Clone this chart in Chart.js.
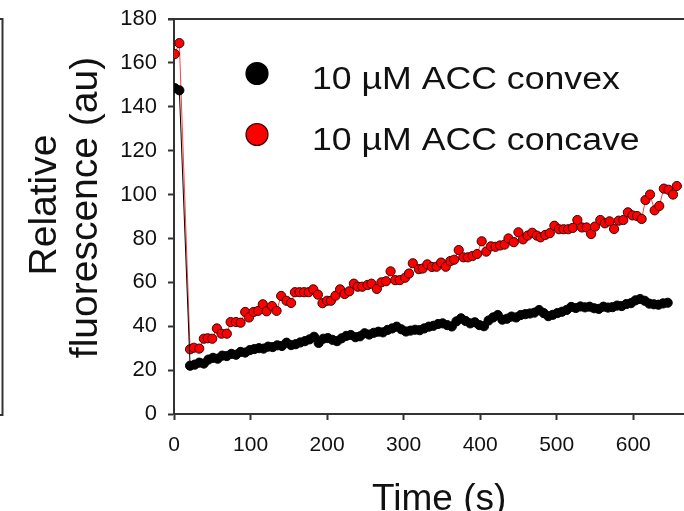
<!DOCTYPE html>
<html>
<head>
<meta charset="utf-8">
<script src="https://cdn.jsdelivr.net/npm/chart.js@4/dist/chart.umd.min.js"></script>
<style>
  html, body { margin: 0; padding: 0; overflow: hidden; background: #fff; }
  #wrap { position: relative; width: 710px; height: 511px; }
</style>
</head>
<body>
<div id="wrap"><canvas id="c" width="710" height="511"></canvas></div>
<script>
// Fluorescence time courses after 10 µM ACC, convex vs concave side
const seriesLabels = ['10 \u00B5M ACC convex', '10 \u00B5M ACC concave'];
const xTicks = [0, 100, 200, 300, 400, 500, 600];
const yTicks = [0, 20, 40, 60, 80, 100, 120, 140, 160, 180];
const xTitle = 'Time (s)';
const yTitle = ['Relative', 'fluorescence (au)'];

const convexTime = [1, 7, 21, 27, 33, 39, 45, 51, 57, 63, 69, 75, 81, 87, 93, 99, 105, 111, 117, 123,
  129, 135, 141, 147, 153, 159, 165, 171, 177, 183, 189, 195, 201, 207, 213, 219, 225, 231, 237, 243,
  249, 255, 261, 267, 273, 279, 285, 291, 297, 303, 309, 315, 321, 327, 333, 339, 345, 351, 357, 363,
  369, 375, 381, 387, 393, 399, 405, 411, 417, 423, 429, 435, 441, 447, 453, 459, 465, 471, 477, 483,
  489, 495, 501, 507, 513, 519, 525, 531, 537, 543, 549, 555, 561, 567, 573, 579, 585, 591, 597, 603,
  609, 615, 621, 627, 633, 639, 645];
const convexValue = [148.5, 147.5, 22.0, 22.5, 23.4, 23.0, 24.8, 25.6, 25.2, 26.6, 26.4, 27.4, 27.0, 28.3, 28.0, 29.1, 29.6, 30.0, 29.8, 30.7,
  30.5, 31.3, 31.0, 32.5, 31.4, 31.8, 32.6, 33.2, 34.0, 35.2, 32.4, 34.3, 34.6, 33.8, 33.2, 34.5, 35.6, 36.0, 35.0, 35.4,
  36.8, 36.2, 37.0, 37.5, 37.2, 38.3, 39.0, 39.8, 38.6, 37.6, 38.0, 38.4, 38.2, 39.0, 39.8, 40.2, 41.0, 41.3, 40.5, 39.9,
  42.2, 43.6, 42.4, 41.3, 41.8, 40.5, 40.0, 42.6, 44.0, 45.1, 43.0, 43.4, 44.4, 44.0, 45.1, 45.5, 45.8, 46.2, 47.4, 46.0,
  44.6, 45.2, 46.0, 46.6, 47.4, 48.8, 48.3, 49.0, 48.6, 48.9, 48.2, 47.9, 48.9, 48.5, 48.7, 49.4, 49.2, 50.1, 50.5, 51.8,
  52.4, 51.6, 50.3, 50.0, 49.8, 50.4, 50.7];

const concaveTime = [1, 7, 21, 26, 33, 39, 44, 50, 56, 62, 69, 74, 81, 87, 93, 98, 104, 110, 116, 121,
  128, 134, 140, 147, 153, 158, 164, 170, 176, 182, 188, 194, 200, 205, 211, 217, 223, 229, 235, 240,
  246, 253, 258, 265, 271, 277, 283, 289, 295, 302, 307, 312, 320, 325, 331, 337, 343, 349, 355, 361,
  366, 372, 378, 384, 390, 396, 402, 408, 414, 420, 426, 432, 437, 444, 450, 456, 462, 468, 474, 479,
  485, 491, 497, 503, 509, 515, 521, 527, 533, 539, 545, 550, 557, 563, 569, 575, 581, 587, 593, 599,
  605, 611, 616, 622, 628, 634, 640, 646, 652, 657];
const concaveValue = [164, 169, 29.5, 30.2, 29.8, 34.3, 34.5, 34.3, 39.0, 36.6, 36.6, 41.9, 41.9, 41.6, 46.5, 44.0, 46.5, 47.0, 50.0, 46.8,
  49.2, 47.0, 53.8, 51.6, 50.6, 55.5, 55.5, 55.5, 55.5, 56.8, 54.4, 50.5, 51.6, 51.6, 53.9, 56.8, 54.7, 55.9, 59.4, 58.0,
  58.0, 58.8, 59.4, 57.0, 60.0, 60.5, 65.0, 61.0, 61.0, 62.1, 64.0, 68.7, 66.0, 66.3, 68.2, 67.0, 67.1, 69.0, 67.1, 69.7,
  70.3, 74.7, 71.4, 71.4, 72.0, 72.9, 78.7, 74.0, 76.4, 76.2, 76.8, 77.2, 80.0, 78.3, 82.8, 79.6, 81.3, 82.6, 81.3, 80.5,
  81.6, 82.4, 85.8, 84.2, 84.2, 84.2, 84.8, 88.4, 85.0, 85.0, 82.0, 85.4, 88.4, 86.9, 87.8, 84.3, 88.1, 88.4, 91.9, 90.5,
  90.2, 88.9, 97.5, 100.0, 92.8, 94.8, 102.7, 102.2, 100.0, 103.9];

const toPoints = (t, v) => t.map((x, i) => ({ x: x, y: v[i] }));

const AXIS = '#333333';
const FONT = "'Liberation Sans', Arial, sans-serif";

// Frame, titles and legend drawn on top of the chart
const decorations = {
  id: 'decorations',
  afterDraw(chart) {
    const ctx = chart.ctx;
    const a = chart.chartArea;
    ctx.save();
    // top frame line
    ctx.strokeStyle = AXIS;
    ctx.lineWidth = 2;
    ctx.beginPath();
    ctx.moveTo(a.left - 6, a.top);
    ctx.lineTo(a.right, a.top);
    ctx.stroke();
    // edge of the neighbouring panel
    ctx.beginPath();
    ctx.moveTo(0, a.top);
    ctx.lineTo(2.5, a.top);
    ctx.lineTo(2.5, a.bottom + 1);
    ctx.lineTo(0, a.bottom + 1);
    ctx.stroke();

    // y title, two rotated lines
    ctx.fillStyle = '#111';
    ctx.font = '39px ' + FONT;
    ctx.textAlign = 'center';
    ctx.textBaseline = 'alphabetic';
    const yLines = [{ x: 56, y: 205 }, { x: 97, y: 207.5 }];
    yTitle.forEach((txt, i) => {
      ctx.save();
      ctx.translate(yLines[i].x, yLines[i].y);
      ctx.rotate(-Math.PI / 2);
      ctx.fillText(txt, 0, 0);
      ctx.restore();
    });

    // x title
    ctx.font = '37px ' + FONT;
    ctx.fillText(xTitle, (a.left + a.right) / 2, 510);

    // legend
    const rows = [
      { y: 73.5, base: 88.5, fill: '#000000', stroke: '#000000' },
      { y: 134.5, base: 150, fill: '#ff0000', stroke: '#3a0000' }
    ];
    rows.forEach((r, i) => {
      ctx.beginPath();
      ctx.arc(257, r.y, 11, 0, Math.PI * 2);
      ctx.fillStyle = r.fill;
      ctx.fill();
      ctx.lineWidth = 1.2;
      ctx.strokeStyle = r.stroke;
      ctx.stroke();
      ctx.save();
      ctx.translate(312, r.base);
      ctx.scale(1.15, 1);
      ctx.fillStyle = '#111';
      ctx.font = '31px ' + FONT;
      ctx.textAlign = 'left';
      ctx.fillText(seriesLabels[i], 0, 0);
      ctx.restore();
    });
    ctx.restore();
  }
};

new Chart(document.getElementById('c'), {
  type: 'scatter',
  data: {
    datasets: [
      {
        label: seriesLabels[0],
        data: toPoints(convexTime, convexValue),
        showLine: true,
        borderColor: '#000000',
        borderWidth: 1,
        pointBackgroundColor: '#000000',
        pointBorderColor: '#000000',
        pointBorderWidth: 1,
        pointRadius: 4.6
      },
      {
        label: seriesLabels[1],
        data: toPoints(concaveTime, concaveValue),
        showLine: true,
        borderColor: 'rgba(255,0,0,0.75)',
        borderWidth: 1,
        pointBackgroundColor: '#ff0000',
        pointBorderColor: '#3a0000',
        pointBorderWidth: 1,
        pointRadius: 4.6
      }
    ]
  },
  options: {
    responsive: false,
    animation: false,
    layout: { padding: { top: 19, left: 0, right: 0, bottom: 0 } },
    plugins: { legend: { display: false }, tooltip: { enabled: false } },
    scales: {
      x: {
        type: 'linear',
        min: 0,
        max: 693,
        afterBuildTicks: s => { s.ticks = xTicks.map(v => ({ value: v })); },
        afterFit: s => { s.height = 97; s.paddingLeft = 0; s.paddingRight = 0; },
        border: { display: true, color: AXIS, width: 2 },
        grid: { drawOnChartArea: false, drawTicks: true, tickLength: 6, tickWidth: 2, tickColor: AXIS, color: AXIS },
        ticks: { color: '#111', font: { family: FONT, size: 21 }, padding: 13, maxRotation: 0, autoSkip: false }
      },
      y: {
        type: 'linear',
        min: 0,
        max: 180,
        afterBuildTicks: s => { s.ticks = yTicks.map(v => ({ value: v })); },
        afterFit: s => { s.width = 174; s.paddingTop = 0; s.paddingBottom = 0; },
        border: { display: true, color: AXIS, width: 2 },
        grid: { drawOnChartArea: false, drawTicks: true, tickLength: 6, tickWidth: 2, tickColor: AXIS, color: AXIS },
        ticks: { color: '#111', font: { family: FONT, size: 22 }, padding: 11, autoSkip: false }
      }
    }
  },
  plugins: [decorations]
});
</script>
</body>
</html>
